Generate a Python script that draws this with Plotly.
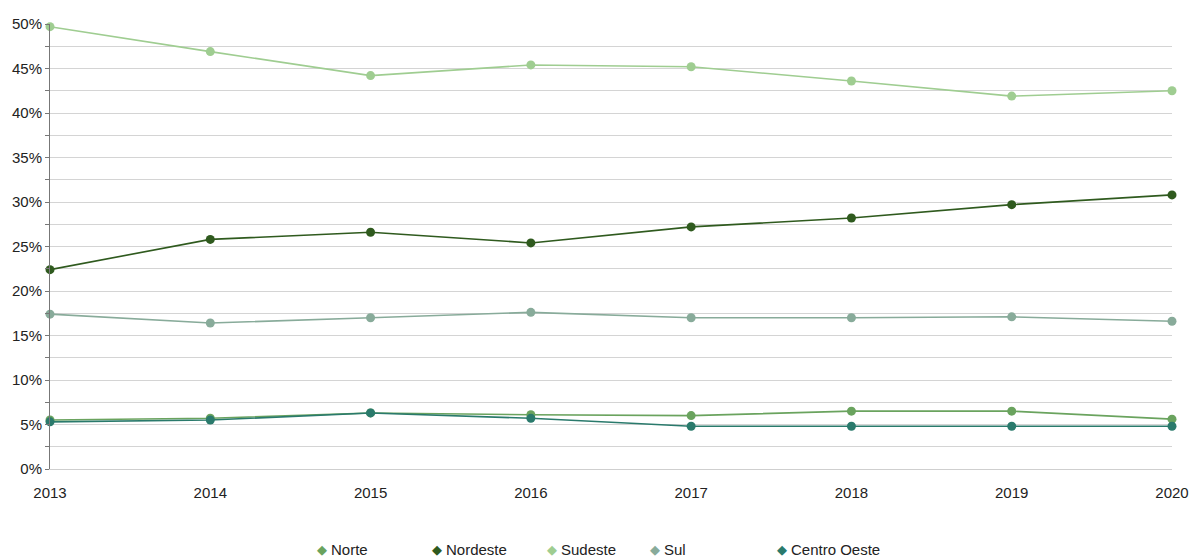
import plotly.graph_objects as go

anos = [2013, 2014, 2015, 2016, 2017, 2018, 2019, 2020]

norte = [5.5, 5.7, 6.3, 6.1, 6.0, 6.5, 6.5, 5.6]
nordeste = [22.4, 25.8, 26.6, 25.4, 27.2, 28.2, 29.7, 30.8]
sudeste = [49.7, 46.9, 44.2, 45.4, 45.2, 43.6, 41.9, 42.5]
sul = [17.4, 16.4, 17.0, 17.6, 17.0, 17.0, 17.1, 16.6]
centro_oeste = [5.3, 5.5, 6.3, 5.7, 4.8, 4.8, 4.8, 4.8]

series = [
    ("Norte", norte, "#6aa35e"),
    ("Nordeste", nordeste, "#2f5a1e"),
    ("Sudeste", sudeste, "#9fcd91"),
    ("Sul", sul, "#88ab9a"),
    ("Centro Oeste", centro_oeste, "#2a7a6c"),
]

FONT = "Liberation Sans, Arial, sans-serif"

# plot-area geometry in pixels
W, H = 1190, 559
ML, MR, MT, MB = 50, 18, 24, 90
PW, PH = W - ML - MR, H - MT - MB

# legend entry positions (marker centre, pixels from the left edge)
legend_px = [322, 437, 552, 655, 782]
legend_py = 549

fig = go.Figure()
for nome, vals, cor in series:
    fig.add_trace(go.Scatter(
        x=anos, y=vals, mode="lines+markers", name=nome,
        line=dict(color=cor, width=1.6),
        marker=dict(color=cor, size=9),
        cliponaxis=False, showlegend=False,
    ))

annotations = []
ly = (H - MB - legend_py) / PH
for (nome, vals, cor), px in zip(series, legend_px):
    annotations.append(dict(
        x=(px - ML) / PW, y=ly, xref="paper", yref="paper",
        text="◆", showarrow=False, xanchor="center", yanchor="middle",
        font=dict(family=FONT, size=13, color=cor),
    ))
    annotations.append(dict(
        x=(px + 7 - ML) / PW, y=ly, xref="paper", yref="paper",
        text=nome, showarrow=False, xanchor="left", yanchor="middle",
        font=dict(family=FONT, size=15, color="#222"),
    ))

fig.update_layout(
    width=W, height=H,
    margin=dict(l=ML, r=MR, t=MT, b=MB),
    paper_bgcolor="white", plot_bgcolor="white",
    font=dict(family=FONT, size=15, color="#222"),
    showlegend=False,
    annotations=annotations,
    xaxis=dict(
        range=[2013, 2020], tickvals=anos, ticktext=[str(a) for a in anos],
        showgrid=False, showline=True, linecolor="#cfcfcf", linewidth=1,
        ticks="", zeroline=False, automargin=False,
        ticklabelstandoff=10,
        tickfont=dict(family=FONT, size=15, color="#222"),
    ),
    yaxis=dict(
        range=[0, 50], dtick=5, ticksuffix="%",
        showgrid=True, gridcolor="#d4d4d4", gridwidth=1,
        minor=dict(dtick=2.5, showgrid=True, gridcolor="#d4d4d4",
                   ticks="outside", ticklen=4, tickcolor="#777"),
        showline=True, linecolor="#777", linewidth=1,
        ticks="outside", ticklen=4, tickcolor="#777", zeroline=False,
        automargin=False,
        tickfont=dict(family=FONT, size=15, color="#222"),
    ),
)

fig.write_html("out.html")
